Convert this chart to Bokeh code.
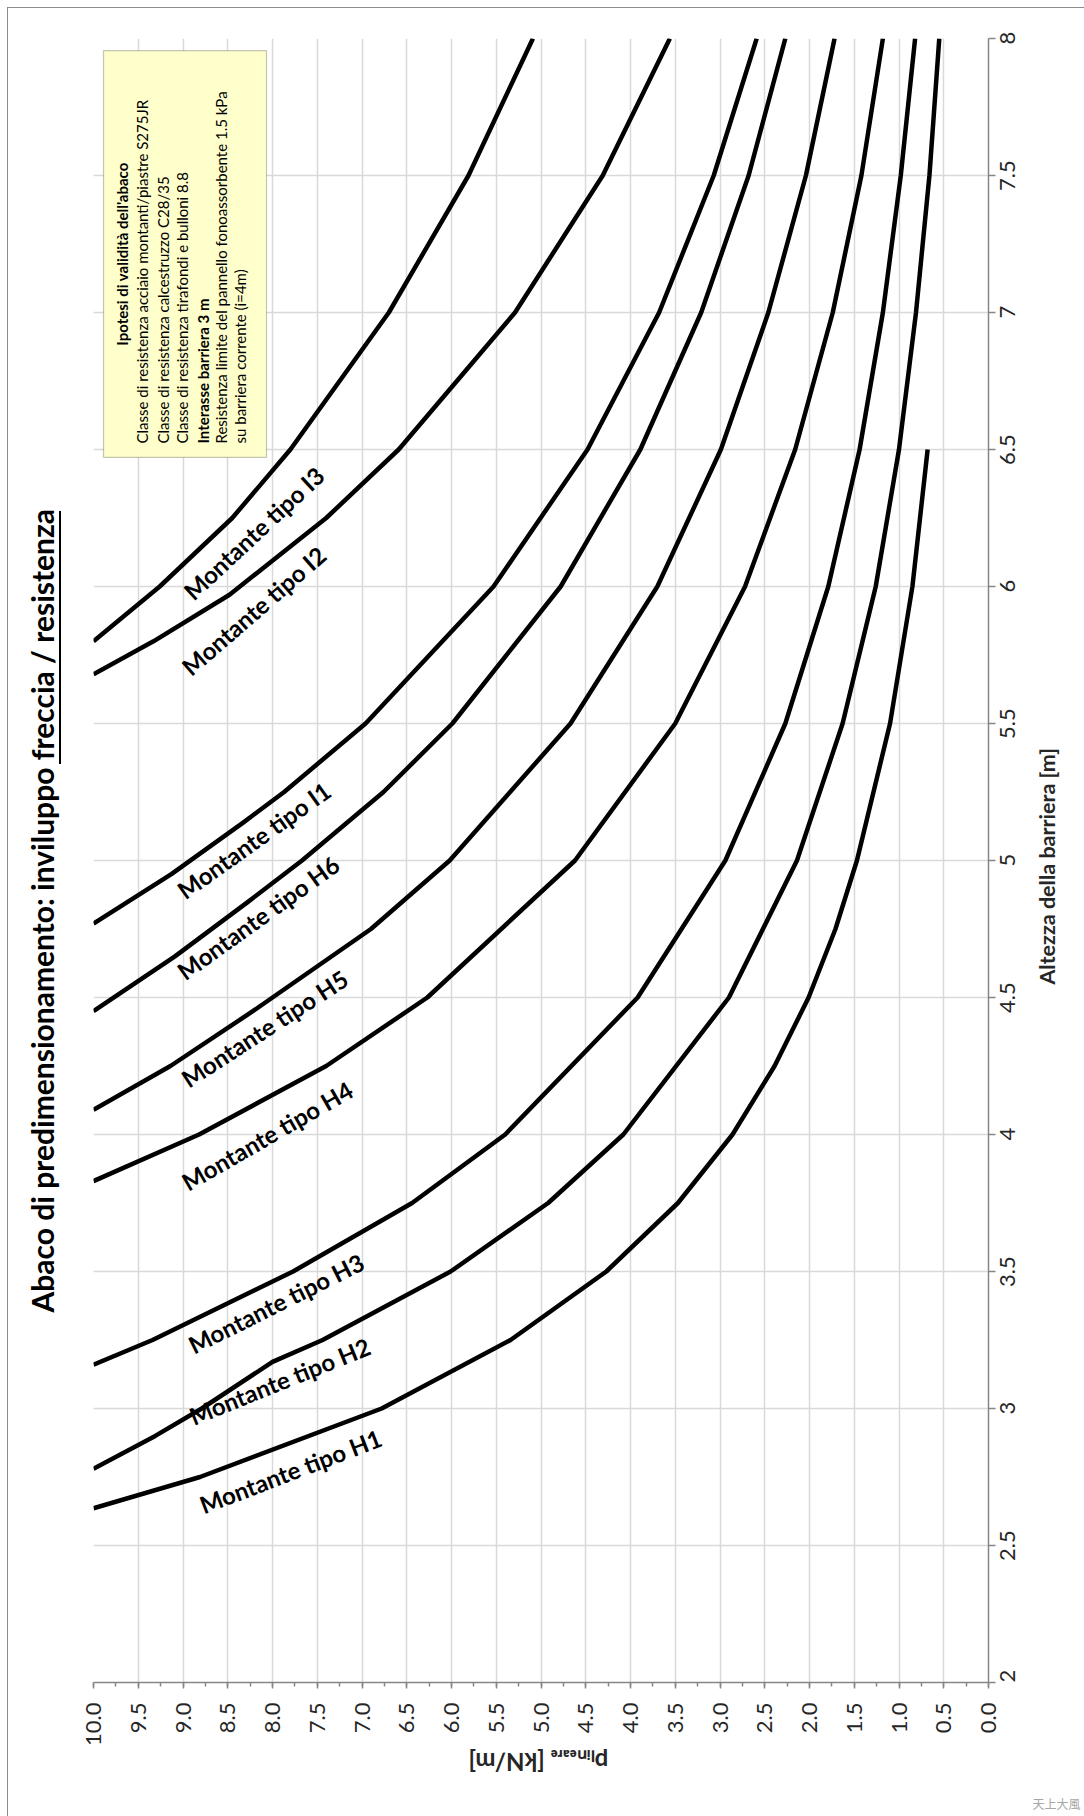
import math

from bokeh.core.properties import value
from bokeh.embed import file_html
from bokeh.models import (BoxAnnotation, FixedTicker, InlineStyleSheet, Label, LinearAxis,
                          NumeralTickFormatter, Range1d, Title)
from bokeh.plotting import figure
from bokeh.resources import INLINE

# Admissible linear load p [kN/m] against barrier height h [m], one envelope per post type
names = ["Montante tipo H1", "Montante tipo H2", "Montante tipo H3", "Montante tipo H4",
         "Montante tipo H5", "Montante tipo H6", "Montante tipo I1", "Montante tipo I2",
         "Montante tipo I3"]

h_H1 = [2.636, 2.75, 3.0, 3.25, 3.5, 3.75, 4.0, 4.25, 4.5, 4.75, 5.0, 5.5, 6.0, 6.5]
p_H1 = [10.0, 8.81, 6.78, 5.34, 4.27, 3.47, 2.86, 2.39, 2.01, 1.71, 1.47, 1.10, 0.85, 0.68]

h_H2 = [2.78, 2.9, 3.0, 3.17, 3.25, 3.5, 3.75, 4.0, 4.5, 5.0, 5.5, 6.0, 6.5, 7.0, 7.5, 8.0]
p_H2 = [10.0, 9.31, 8.79, 8.0, 7.44, 6.01, 4.92, 4.08, 2.90, 2.14, 1.63, 1.26, 1.00, 0.81,
        0.66, 0.55]

h_H3 = [3.16, 3.25, 3.5, 3.75, 4.0, 4.5, 5.0, 5.5, 6.0, 6.5, 7.0, 7.5, 8.0]
p_H3 = [10.0, 9.34, 7.77, 6.44, 5.40, 3.92, 2.94, 2.27, 1.79, 1.44, 1.18, 0.98, 0.82]

h_H4 = [3.83, 4.0, 4.25, 4.5, 5.0, 5.5, 6.0, 6.5, 7.0, 7.5, 8.0]
p_H4 = [10.0, 8.82, 7.40, 6.27, 4.62, 3.50, 2.72, 2.16, 1.74, 1.42, 1.18]

h_H5 = [4.09, 4.25, 4.45, 4.75, 5.0, 5.5, 6.0, 6.5, 7.0, 7.5, 8.0]
p_H5 = [10.0, 9.14, 8.22, 6.90, 6.02, 4.67, 3.70, 2.99, 2.46, 2.04, 1.72]

h_H6 = [4.45, 4.65, 4.85, 5.0, 5.25, 5.5, 6.0, 6.5, 7.0, 7.5, 8.0]
p_H6 = [10.0, 9.09, 8.27, 7.67, 6.76, 5.99, 4.78, 3.89, 3.21, 2.68, 2.27]

h_I1 = [4.77, 4.95, 5.14, 5.25, 5.5, 6.0, 6.5, 7.0, 7.5, 8.0]
p_I1 = [10.0, 9.13, 8.32, 7.87, 6.96, 5.53, 4.48, 3.68, 3.07, 2.59]

h_I2 = [5.68, 5.8, 5.97, 6.25, 6.5, 7.0, 7.5, 8.0]
p_I2 = [10.0, 9.33, 8.48, 7.40, 6.59, 5.29, 4.31, 3.56]

h_I3 = [5.80, 6.0, 6.25, 6.5, 7.0, 7.5, 8.0]
p_I3 = [10.0, 9.26, 8.45, 7.80, 6.70, 5.81, 5.09]

heights = [h_H1, h_H2, h_H3, h_H4, h_H5, h_H6, h_I1, h_I2, h_I3]
loads = [p_H1, p_H2, p_H3, p_H4, p_H5, p_H6, p_I1, p_I2, p_I3]

p_ticks = [i * 0.5 for i in range(21)]
p_minor = [i * 0.25 for i in range(41)]
h_ticks = [2 + i * 0.5 for i in range(13)]
h_labels = ["%g" % t for t in h_ticks]

note_title = "Ipotesi di validità dell'abaco"
note_lines = [
    "Classe di resistenza acciaio montanti/piastre S275JR",
    "Classe di resistenza calcestruzzo C28/35",
    "Classe di resistenza tirafondi e bulloni 8.8",
    "Interasse barriera 3 m",
    "Resistenza limite del pannello fonoassorbente 1.5 kPa",
    "su barriera corrente (i=4m)",
]
note_bold = [False, False, False, True, False, False]

FONT = "Lato"
AXIS_GREY = "#868686"
GRID_GREY = "#D9D9D9"
LABEL_INK = "#262626"
PX_PER_M = 274.0          # vertical scale of the frame, used to centre upright labels

# thin decorations drawn around the canvas: chart border and title underline
deco = InlineStyleSheet(css="""
:host { position: relative; }
:host::before {
  content: ""; position: absolute; z-index: 10; pointer-events: none;
  left: 7px; top: 7px; right: 0; bottom: 0;
  border-left: 1.5px solid #8C8C8C; border-top: 1.5px solid #8C8C8C;
}
:host::after {
  content: ""; position: absolute; z-index: 10; pointer-events: none;
  left: 59px; top: 511px; width: 2px; height: 253px; background: #000;
}
""")

p = figure(width=1084, height=1816, output_backend="svg", toolbar_location=None,
           x_range=Range1d(10, 0), y_range=Range1d(2, 8), y_axis_location="right",
           min_border_left=93, min_border_right=96, min_border_top=38, min_border_bottom=134,
           background_fill_color="white", border_fill_color="white")
p.outline_line_color = None
p.stylesheets = [deco]

# load axis (bottom), read from 10 down to 0
xa = p.xaxis[0]
xa.ticker = FixedTicker(ticks=p_ticks, minor_ticks=p_minor)
xa.formatter = NumeralTickFormatter(format="0.0")
xa.major_label_orientation = math.pi / 2
xa.major_tick_in = 0
xa.major_tick_out = 6
xa.minor_tick_in = 0
xa.minor_tick_out = 4
xa.axis_line_color = AXIS_GREY
xa.axis_line_width = 1.5
xa.major_tick_line_color = AXIS_GREY
xa.major_tick_line_width = 1.5
xa.minor_tick_line_color = AXIS_GREY
xa.minor_tick_line_width = 1.5
xa.major_label_text_font = FONT
xa.major_label_text_font_size = "22px"
xa.major_label_text_color = LABEL_INK
xa.major_label_standoff = 14

# axis title of the load axis, upside down, centred under the frame
x_title_end = 5.81
xa_title = LinearAxis(ticker=FixedTicker(ticks=[x_title_end], minor_ticks=[]),
                      major_label_overrides={x_title_end: "pₗᵢₙₑₐᵣₑ [kN/m]"},
                      axis_line_color=None, major_tick_line_color=None,
                      minor_tick_line_color=None, major_tick_out=0, major_tick_in=0,
                      major_label_orientation=math.pi, major_label_standoff=14,
                      major_label_text_font=FONT, major_label_text_font_style="bold",
                      major_label_text_font_size="24px", major_label_text_color=LABEL_INK)
p.add_layout(xa_title, "below")

# height axis (right): tick marks on the main axis ...
ya = p.yaxis[0]
ya.ticker = FixedTicker(ticks=h_ticks, minor_ticks=[])
ya.major_label_overrides = {t: "" for t in h_ticks}
ya.major_label_standoff = 0
ya.major_tick_in = 0
ya.major_tick_out = 7
ya.minor_tick_line_color = None
ya.axis_line_color = AXIS_GREY
ya.axis_line_width = 1.5
ya.major_tick_line_color = AXIS_GREY
ya.major_tick_line_width = 1.5

# ... and upright tick labels, each centred on its tick (the lowest one sits on the edge)
half_len = [(6 if t == int(t) else 15.5) / PX_PER_M for t in h_ticks]
lab_pos = [t if t == h_ticks[0] else round(t - d, 4) for t, d in zip(h_ticks, half_len)]
ya_lab = LinearAxis(ticker=FixedTicker(ticks=lab_pos, minor_ticks=[]),
                    major_label_overrides=dict(zip(lab_pos, h_labels)),
                    axis_line_color=None, major_tick_line_color=None,
                    minor_tick_line_color=None, major_tick_out=0, major_tick_in=0,
                    major_label_orientation=math.pi / 2, major_label_standoff=12,
                    major_label_text_font=FONT, major_label_text_font_size="22px",
                    major_label_text_color=LABEL_INK)
p.add_layout(ya_lab, "right")

# axis title of the height axis, centred on the frame
title_start = 4.547
ya_title = LinearAxis(ticker=FixedTicker(ticks=[title_start], minor_ticks=[]),
                      major_label_overrides={title_start: "Altezza della barriera [m]"},
                      axis_line_color=None, major_tick_line_color=None,
                      minor_tick_line_color=None, major_tick_out=0, major_tick_in=0,
                      major_label_orientation=math.pi / 2, major_label_standoff=22,
                      major_label_text_font=FONT, major_label_text_font_style="bold",
                      major_label_text_font_size="21.5px", major_label_text_color=LABEL_INK)
p.add_layout(ya_title, "right")

p.xgrid.ticker = FixedTicker(ticks=p_ticks)
p.ygrid.ticker = FixedTicker(ticks=h_ticks)
for g in (p.xgrid, p.ygrid):
    g.grid_line_color = GRID_GREY
    g.grid_line_width = 1.5

# envelopes
for hs, ps in zip(heights, loads):
    p.line(x=ps, y=hs, line_color="black", line_width=4.5, line_join="round")

# curve names, set along each curve
lab_p = [7.80, 7.92, 7.96, 8.06, 8.09, 8.16, 8.21, 8.21, 8.21]
lab_h = [2.771, 3.100, 3.384, 3.996, 4.387, 4.792, 5.074, 5.912, 6.195]
lab_deg = [21, 22, 26.5, 30, 33, 35.7, 35.5, 41, 43]
p.text(x=lab_p, y=lab_h, text=names, angle=[math.radians(a) for a in lab_deg],
       text_font=value(FONT), text_font_style="bold", text_font_size="24px",
       text_align="center", text_baseline="middle", text_color="black")

# validity note
p.add_layout(BoxAnnotation(left=9.888, right=8.067, top=7.956, bottom=6.471,
                           fill_color="#FFFFCC", fill_alpha=1.0,
                           line_color="#404040", line_width=1.2))
p.add_layout(Label(x=9.676, y=7.2135, text=note_title, angle=math.pi / 2,
                   text_align="center", text_baseline="middle", text_font=FONT,
                   text_font_style="bold", text_font_size="15px", text_color="black"))
note_x = [9.453, 9.229, 9.006, 8.782, 8.570, 8.358]
for xx, line, bold in zip(note_x, note_lines, note_bold):
    p.add_layout(Label(x=xx, y=6.522, text=line, angle=math.pi / 2,
                       text_align="left", text_baseline="middle", text_font=FONT,
                       text_font_style="bold" if bold else "normal",
                       text_font_size="15px", text_color="black"))

# chart title on the left, reading upwards; a blank axis keeps it away from the frame
spacer = LinearAxis(ticker=FixedTicker(ticks=[5.0], minor_ticks=[]),
                    major_label_overrides={5.0: ""}, major_label_text_font_size="1px",
                    axis_line_color=None, major_tick_line_color=None,
                    minor_tick_line_color=None, major_tick_out=34, major_tick_in=0,
                    minor_tick_out=0, minor_tick_in=0, major_label_standoff=0)
p.add_layout(spacer, "left")
p.add_layout(Title(text="Abaco di predimensionamento: inviluppo freccia / resistenza",
                   align="left", offset=370, standoff=0, text_font=FONT,
                   text_font_style="bold", text_font_size="30px", text_color="black"),
             "left")

# signature stamp under the load axis
p.add_layout(Title(text="天上大風", align="right", offset=-92, standoff=0,
                   vertical_align="top", text_font="Noto Sans CJK SC",
                   text_font_style="normal", text_font_size="12px", text_color="#A6A6A6"),
             "below")

open("out.html", "w").write(file_html(p, INLINE))
